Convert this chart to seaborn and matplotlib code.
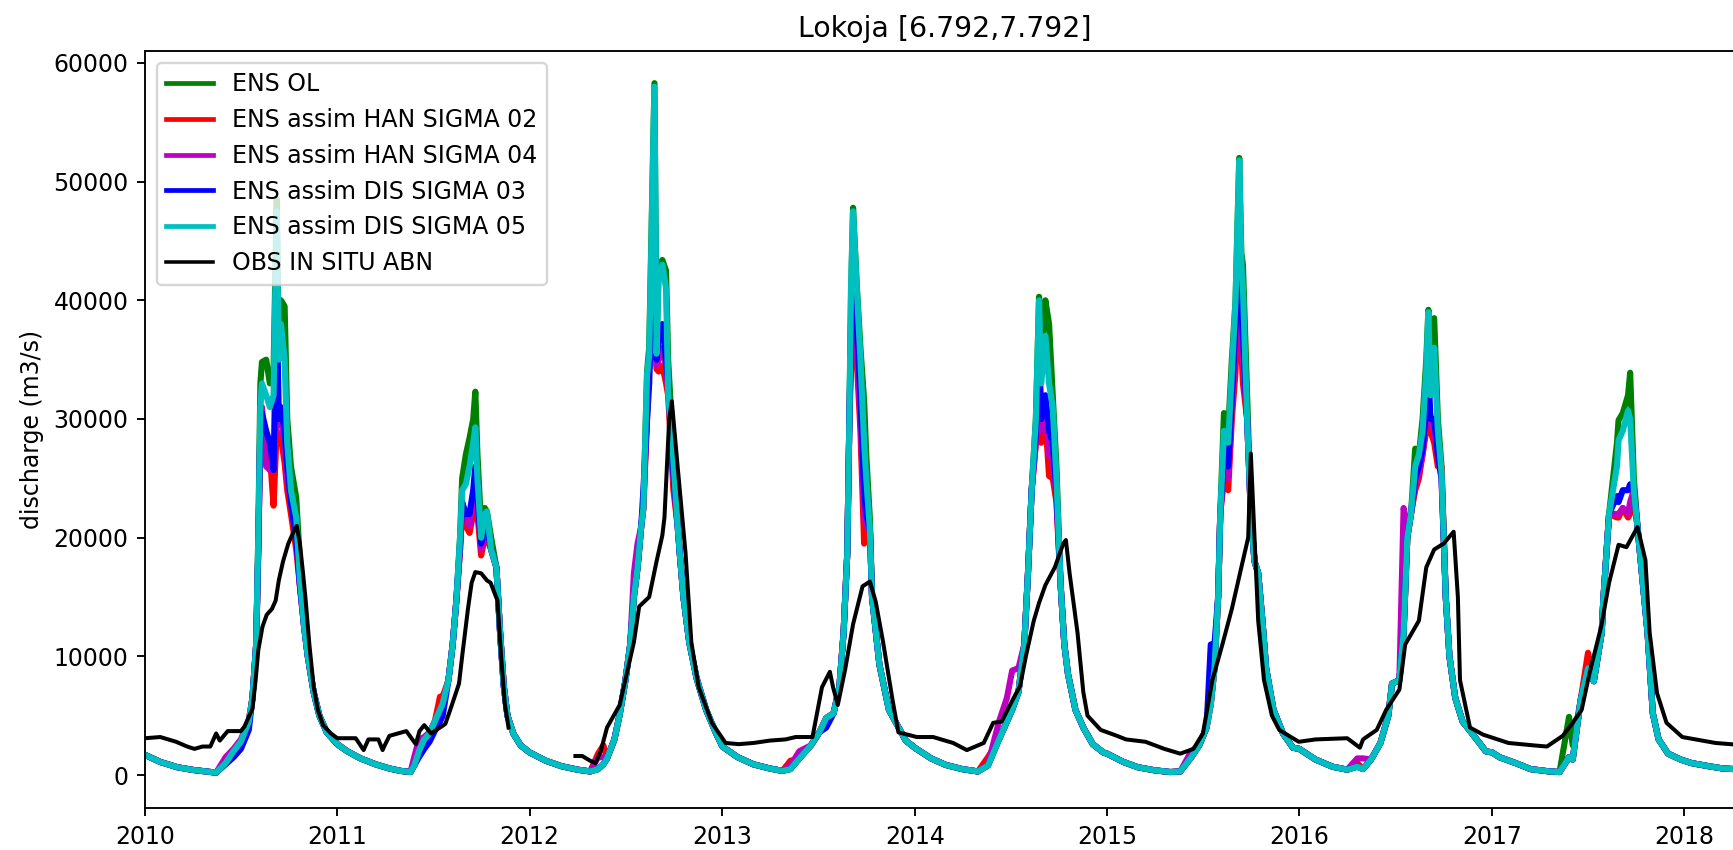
import numpy as np
import pandas as pd
import matplotlib
matplotlib.use("Agg")
import matplotlib.pyplot as plt
import matplotlib.dates as mdates
import seaborn as sns

# ---------------------------------------------------------------------------
# Simulated discharge at Lokoja (m3/s), ensemble means of each experiment
# ---------------------------------------------------------------------------
model_dates = [
    # 2010
    "2010-01-01", "2010-01-30", "2010-03-04", "2010-04-02", "2010-05-01", "2010-05-16",
    "2010-06-03", "2010-06-18",
    "2010-07-02", "2010-07-17", "2010-07-24", "2010-07-31",
    "2010-08-04", "2010-08-08", "2010-08-11", "2010-08-19", "2010-08-26",
    "2010-09-02", "2010-09-08", "2010-09-12", "2010-09-16", "2010-09-23", "2010-09-28",
    "2010-10-05", "2010-10-15", "2010-10-22", "2010-10-30",
    "2010-11-06", "2010-11-17", "2010-11-28",
    "2010-12-12",
    # 2011
    "2011-01-01", "2011-01-20", "2011-02-14", "2011-03-15", "2011-04-10", "2011-05-01", "2011-05-20",
    "2011-05-27", "2011-06-05", "2011-06-15", "2011-06-25",
    "2011-07-05", "2011-07-15", "2011-07-20", "2011-07-31",
    "2011-08-08", "2011-08-15", "2011-08-22", "2011-08-26",
    "2011-09-02", "2011-09-09", "2011-09-16", "2011-09-20", "2011-09-24",
    "2011-10-01", "2011-10-08", "2011-10-12", "2011-10-20", "2011-10-30",
    "2011-11-06", "2011-11-13", "2011-11-20",
    "2011-12-01", "2011-12-15",
    # 2012
    "2012-01-01", "2012-02-01", "2012-03-01", "2012-04-01", "2012-04-25",
    "2012-05-10", "2012-05-20", "2012-05-27",
    "2012-06-10", "2012-06-20",
    "2012-07-01", "2012-07-10", "2012-07-17", "2012-07-24", "2012-07-31",
    "2012-08-04", "2012-08-11", "2012-08-15", "2012-08-25", "2012-08-29",
    "2012-09-02", "2012-09-09", "2012-09-16", "2012-09-20", "2012-09-30",
    "2012-10-08", "2012-10-12", "2012-10-19", "2012-10-30",
    "2012-11-13",
    "2012-12-01", "2012-12-20",
    # 2013
    "2013-01-01", "2013-01-30", "2013-03-01", "2013-04-01", "2013-04-25",
    "2013-05-10", "2013-05-27",
    "2013-06-18",
    "2013-07-04", "2013-07-17", "2013-07-31",
    "2013-08-11", "2013-08-19", "2013-08-26", "2013-08-30",
    "2013-09-02", "2013-09-06", "2013-09-13", "2013-09-20", "2013-09-27",
    "2013-10-01", "2013-10-08", "2013-10-12", "2013-10-26",
    "2013-11-13",
    "2013-12-15",
    # 2014
    "2014-01-01", "2014-02-01", "2014-03-01", "2014-04-01", "2014-05-01", "2014-05-20",
    "2014-06-10", "2014-06-25",
    "2014-07-05", "2014-07-17", "2014-07-28",
    "2014-08-04", "2014-08-11", "2014-08-19", "2014-08-25", "2014-08-29",
    "2014-09-06", "2014-09-13", "2014-09-20", "2014-09-27",
    "2014-10-05", "2014-10-12", "2014-10-19",
    "2014-11-02", "2014-11-17",
    "2014-12-05", "2014-12-25",
    # 2015
    "2015-01-01", "2015-02-01", "2015-03-01", "2015-04-01", "2015-05-01", "2015-05-20",
    "2015-06-10", "2015-06-25",
    "2015-07-09", "2015-07-17", "2015-07-24", "2015-07-31",
    "2015-08-04", "2015-08-11", "2015-08-19", "2015-08-26",
    "2015-09-02", "2015-09-09", "2015-09-13", "2015-09-16", "2015-09-24",
    "2015-10-01", "2015-10-08", "2015-10-15", "2015-10-23", "2015-10-30",
    "2015-11-13",
    "2015-12-01", "2015-12-20",
    # 2016
    "2016-01-01", "2016-02-01", "2016-03-04", "2016-04-01", "2016-04-20",
    "2016-05-01", "2016-05-16",
    "2016-06-03", "2016-06-18", "2016-06-25",
    "2016-07-09", "2016-07-17", "2016-07-24", "2016-07-31",
    "2016-08-08", "2016-08-15", "2016-08-22", "2016-08-29",
    "2016-09-02", "2016-09-06", "2016-09-13", "2016-09-20", "2016-09-27",
    "2016-10-05", "2016-10-12", "2016-10-23",
    "2016-11-06", "2016-11-24",
    "2016-12-20",
    # 2017 - 2018
    "2017-01-01", "2017-01-15", "2017-02-15", "2017-03-15", "2017-04-20",
    "2017-05-09", "2017-05-27",
    "2017-06-03", "2017-06-18",
    "2017-07-02", "2017-07-13", "2017-07-28", "2017-07-31",
    "2017-08-11", "2017-08-26", "2017-08-29",
    "2017-09-06", "2017-09-16", "2017-09-20", "2017-09-27",
    "2017-10-05", "2017-10-23",
    "2017-11-02", "2017-11-13",
    "2017-12-01", "2017-12-25",
    "2018-01-15", "2018-02-15", "2018-03-15", "2018-04-26",
]

ens_ol = [
    1700, 1100, 650, 430, 280, 200, 1000, 2000, 2800, 4500, 6500, 11000,
    20000, 33000, 34800, 35000, 33000, 34000, 48500, 36000, 40000, 39500, 30000,
    26000, 23400, 18000, 12500, 10000, 7000, 5000, 3600,
    2600, 2000, 1400, 900, 550, 350, 250, 800, 2000, 3000, 3500,
    4500, 5500, 6000, 8000, 11000, 14700, 20000, 25000,
    27000, 28400, 30000, 32300, 27000, 21000, 22500, 22200, 20000, 17500,
    12000, 7500, 5000, 3500, 2500,
    1900, 1200, 750, 450, 300, 500, 900, 1400, 3000, 5100,
    8000, 11000, 15000, 17500, 21000, 22500, 34000, 36000, 58300, 36000,
    43000, 43400, 42500, 35000, 27000, 21500, 18700, 15000, 11200, 8150, 5500, 3500,
    2400, 1500, 900, 550, 350, 500, 1400, 2500, 3600, 4800, 5200,
    7400, 12000, 18700, 30000, 40000, 47800, 41300, 36000, 31500,
    27000, 21500, 15000, 9300, 5500, 2900,
    2300, 1400, 850, 500, 300, 800, 3000, 4500, 5500, 7000, 11000,
    17000, 24000, 30000, 40300, 35000, 40000, 38000, 32000, 26000,
    16000, 11000, 8500, 5500, 4000, 2600, 1900,
    1800, 1100, 650, 400, 250, 300, 1500, 2500, 4000, 6000, 9000, 15000,
    22000, 30500, 29000, 35000, 40000, 52000, 44000, 43000, 32000,
    22000, 18000, 17000, 13000, 9000, 5500, 3500, 2300,
    2200, 1300, 700, 450, 700, 500, 1300, 2700, 5000, 7700,
    8000, 12000, 20000, 22000, 27500, 27000, 30000, 35000,
    39200, 32000, 38500, 30000, 26000, 15000, 10000, 6500, 4500, 3500, 2000,
    1900, 1500, 1000, 500, 300, 250, 4900, 2500, 6300,
    9000, 7900, 12000, 14700, 22000, 28000, 29900,
    30500, 32000, 33900, 25000, 20400, 12000, 5200, 3000, 1800, 1300,
    1000, 750, 550, 450,
]

han_sigma02 = [
    1700, 1100, 650, 430, 280, 200, 1000, 2000, 2800, 4500, 6500, 11000,
    19000, 29000, 30000, 28000, 27000, 22700, 29000, 28500, 28500, 26300, 24000,
    22000, 19000, 16000, 12500, 10000, 7000, 5000, 3600,
    2600, 2000, 1400, 900, 550, 350, 250, 800, 2000, 3000, 3500,
    4500, 6600, 6600, 8000, 11000, 14700, 19000, 22000,
    21000, 20400, 22000, 24500, 22000, 18500, 20000, 20000, 19000, 17500,
    12000, 7500, 5000, 3500, 2500,
    1900, 1200, 750, 450, 300, 1800, 2500, 1400, 3000, 5100,
    8000, 11000, 15000, 17500, 21000, 22500, 30000, 34500, 40000, 34200,
    34000, 34500, 33000, 32000, 24000, 21000, 18700, 15000, 11200, 8150, 5500, 3500,
    2400, 1500, 900, 550, 350, 1200, 1400, 2500, 3600, 4800, 5200,
    7400, 12000, 18700, 30000, 34000, 42000, 35000, 29000, 19500,
    20500, 20600, 15000, 9300, 5500, 2900,
    2300, 1400, 850, 500, 300, 1500, 3000, 4500, 5500, 7000, 11000,
    17000, 24000, 28000, 34000, 28000, 30000, 25200, 25000, 23000,
    16000, 11000, 8500, 5500, 4000, 2600, 1900,
    1800, 1100, 650, 400, 250, 300, 1500, 2500, 4000, 6000, 9000, 15000,
    22000, 25000, 24000, 30000, 34000, 45000, 36000, 33000, 30000,
    22000, 18000, 17000, 13000, 9000, 5500, 3500, 2300,
    2200, 1300, 700, 450, 1000, 500, 1300, 2700, 5000, 7700,
    8000, 12000, 20000, 22000, 24000, 25000, 27000, 29000,
    31000, 29000, 28000, 26000, 26000, 15000, 10000, 6500, 4500, 3500, 2000,
    1900, 1500, 1000, 500, 300, 250, 1500, 1300, 6300,
    10300, 7900, 12000, 14700, 22000, 21700, 21700,
    22500, 21700, 22000, 24000, 20400, 12000, 5200, 3000, 1800, 1300,
    1000, 750, 550, 450,
]

han_sigma04 = [
    1700, 1100, 650, 430, 280, 200, 1500, 2200, 3000, 4600, 6500, 11000,
    19000, 30000, 31000, 26000, 25700, 27000, 30000, 29500, 30000, 28000, 25000,
    23000, 20000, 16000, 12500, 10000, 7000, 5000, 3600,
    2600, 2000, 1400, 900, 550, 350, 250, 1500, 3000, 3200, 3600,
    4500, 5500, 6000, 8000, 11000, 14700, 19000, 22500,
    22000, 21000, 23000, 25000, 23000, 19000, 20500, 20500, 19000, 17500,
    12000, 7500, 5000, 3500, 2500,
    1900, 1200, 750, 450, 300, 1500, 1500, 1400, 3000, 5100,
    8000, 11000, 17000, 19500, 21000, 22500, 31000, 34000, 45000, 34500,
    35000, 36000, 34500, 32500, 25000, 21000, 18700, 15000, 11200, 8150, 5500, 3500,
    2400, 1500, 900, 550, 350, 800, 2000, 2500, 3600, 4800, 5200,
    7400, 12000, 18700, 30000, 36000, 43000, 36000, 30000, 22000,
    21000, 20600, 15000, 9300, 5500, 2900,
    2300, 1400, 850, 500, 300, 900, 4500, 6500, 8800, 9000, 11000,
    17000, 24000, 28000, 35000, 29000, 31000, 27000, 26500, 23500,
    16000, 11000, 8500, 5500, 4000, 2600, 1900,
    1800, 1100, 650, 400, 250, 300, 2000, 2500, 4000, 6000, 9000, 15000,
    22000, 26000, 25000, 31000, 36000, 47000, 38000, 35000, 30000,
    22000, 18000, 17000, 13000, 9000, 5500, 3500, 2300,
    2200, 1300, 700, 450, 1400, 1400, 1300, 2700, 5000, 7700,
    8000, 22500, 21000, 22000, 24500, 25500, 27000, 30000,
    32000, 30000, 29000, 27000, 25000, 15000, 10000, 6500, 4500, 3500, 2000,
    1900, 1500, 1000, 500, 300, 250, 1500, 1300, 6300,
    9000, 7900, 12000, 14700, 22000, 22000, 22000,
    22500, 22000, 23000, 24000, 20400, 12000, 5200, 3000, 1800, 1300,
    1000, 750, 550, 450,
]

dis_sigma03 = [
    1700, 1100, 650, 430, 280, 200, 900, 1500, 2200, 3800, 6500, 11000,
    19000, 29500, 30500, 29000, 28000, 25700, 40000, 30000, 31000, 29000, 26000,
    23000, 20000, 16000, 12500, 10000, 7000, 5000, 3600,
    2600, 2000, 1400, 900, 550, 350, 250, 800, 1500, 2200, 2800,
    3700, 4500, 5000, 8000, 11000, 14700, 19500, 23000,
    22000, 22000, 24000, 26000, 23500, 19500, 21000, 21000, 19000, 17500,
    12000, 7500, 5000, 3500, 2500,
    1900, 1200, 750, 450, 300, 500, 900, 1400, 3000, 5100,
    8000, 11000, 15000, 17500, 21000, 24000, 30000, 33000, 50000, 35000,
    37000, 38000, 35000, 33000, 25500, 21000, 18700, 15000, 11200, 8150, 5500, 3500,
    2400, 1500, 900, 550, 350, 500, 1400, 2500, 3600, 4000, 5200,
    7400, 12000, 18700, 30000, 38000, 45000, 38000, 32000, 24000,
    22000, 20600, 15000, 9300, 5500, 2900,
    2300, 1400, 850, 500, 300, 800, 3000, 4500, 5500, 7000, 11000,
    17000, 24000, 29000, 37000, 30000, 32000, 29000, 28000, 24000,
    16000, 11000, 8500, 5500, 4000, 2600, 1900,
    1800, 1100, 650, 400, 250, 300, 1500, 2500, 4000, 11000, 11000, 15000,
    22000, 27000, 26000, 32000, 38000, 49000, 40000, 37000, 30000,
    22000, 18000, 17000, 13000, 9000, 5500, 3500, 2300,
    2200, 1300, 700, 450, 700, 500, 1300, 2700, 5000, 7700,
    8000, 12000, 20000, 22000, 25000, 26000, 27500, 31000,
    34000, 30000, 30000, 27000, 25000, 15000, 10000, 6500, 4500, 3500, 2000,
    1900, 1500, 1000, 500, 300, 250, 1500, 1300, 6300,
    9000, 7900, 12000, 14700, 22000, 23500, 23000,
    24000, 24000, 24500, 24000, 20400, 12000, 5200, 3000, 1800, 1300,
    1000, 750, 550, 450,
]

dis_sigma05 = [
    1700, 1100, 650, 430, 280, 200, 1000, 2000, 2800, 4500, 6500, 11000,
    20000, 31000, 33000, 32000, 31000, 32000, 47500, 35000, 38000, 35000, 28000,
    24000, 21700, 16500, 12500, 10000, 7000, 5000, 3600,
    2600, 2000, 1400, 900, 550, 350, 250, 800, 2000, 3000, 3500,
    4500, 5500, 6000, 8000, 11000, 14700, 20000, 24000,
    24500, 26000, 28000, 29300, 25000, 20000, 22000, 22200, 19000, 17500,
    12000, 7500, 5000, 3500, 2500,
    1900, 1200, 750, 450, 300, 500, 900, 1400, 3000, 5100,
    8000, 11000, 15000, 17500, 21000, 22500, 33800, 35300, 58000, 35500,
    42000, 43000, 41000, 32300, 26500, 21000, 18700, 15000, 11200, 8150, 5500, 3500,
    2400, 1500, 900, 550, 350, 500, 1400, 2500, 3600, 4800, 5200,
    7400, 12000, 18700, 30000, 41000, 47500, 41000, 35000, 28000,
    25000, 20600, 15000, 9300, 5500, 2900,
    2300, 1400, 850, 500, 300, 800, 3000, 4500, 5500, 7000, 11000,
    17000, 24000, 30000, 40000, 33000, 37000, 33000, 31000, 25000,
    16000, 11000, 8500, 5500, 4000, 2600, 1900,
    1800, 1100, 650, 400, 250, 300, 1500, 2500, 4000, 6000, 9000, 15000,
    22000, 29000, 28000, 34000, 40000, 51800, 43000, 41000, 30000,
    22000, 18000, 17000, 13000, 9000, 5500, 3500, 2300,
    2200, 1300, 700, 450, 700, 500, 1300, 2700, 5000, 7700,
    8000, 12000, 20000, 22000, 26000, 27000, 29000, 34000,
    39000, 32000, 36000, 29000, 25500, 15000, 10000, 6500, 4500, 3500, 2000,
    1900, 1500, 1000, 500, 300, 250, 1500, 1300, 6300,
    9000, 7900, 12000, 14700, 22000, 26000, 28200,
    29000, 30700, 30000, 24000, 20400, 12000, 5200, 3000, 1800, 1300,
    1000, 750, 550, 450,
]

# ---------------------------------------------------------------------------
# In-situ gauge record (ABN); None marks the missing stretch early 2012
# ---------------------------------------------------------------------------
obs_dates = [
    "2010-01-01", "2010-01-30", "2010-03-01", "2010-03-22", "2010-04-05", "2010-04-20",
    "2010-05-05", "2010-05-16", "2010-05-23", "2010-06-07", "2010-07-02", "2010-07-09",
    "2010-07-24", "2010-07-30", "2010-08-04", "2010-08-12",
    "2010-08-20", "2010-08-30", "2010-09-06", "2010-09-12", "2010-09-20", "2010-09-30",
    "2010-10-10", "2010-10-16", "2010-10-22", "2010-10-28", "2010-11-02", "2010-11-09",
    "2010-11-17", "2010-11-25", "2010-12-05", "2010-12-20",
    "2011-01-01", "2011-02-05", "2011-02-20", "2011-03-01", "2011-03-20", "2011-03-28",
    "2011-04-01", "2011-04-10", "2011-05-12", "2011-05-30", "2011-06-06", "2011-06-15",
    "2011-06-28", "2011-07-25", "2011-08-05", "2011-08-20", "2011-08-26", "2011-09-06",
    "2011-09-13", "2011-09-20", "2011-10-01", "2011-10-12", "2011-10-19", "2011-11-01",
    "2011-11-08", "2011-11-15", "2011-11-22",
    "2012-01-15",
    "2012-03-28", "2012-04-10", "2012-04-25", "2012-05-05", "2012-05-15", "2012-05-27",
    "2012-06-20", "2012-07-17", "2012-07-27", "2012-08-15", "2012-08-29", "2012-09-09",
    "2012-09-13", "2012-09-22", "2012-09-27", "2012-10-08", "2012-10-23", "2012-11-03",
    "2012-11-17", "2012-12-12",
    "2013-01-07", "2013-02-01", "2013-03-01", "2013-04-01", "2013-05-01", "2013-05-20",
    "2013-06-21", "2013-07-09", "2013-07-24", "2013-07-30", "2013-08-08", "2013-08-22",
    "2013-09-06", "2013-09-24", "2013-10-08", "2013-10-19", "2013-11-02", "2013-11-20",
    "2013-12-01",
    "2014-01-05", "2014-02-05", "2014-03-15", "2014-04-10", "2014-05-12", "2014-05-30",
    "2014-06-15", "2014-07-02", "2014-07-20", "2014-07-31", "2014-08-15", "2014-08-25",
    "2014-09-06", "2014-09-24", "2014-10-10", "2014-10-15", "2014-10-22", "2014-11-06",
    "2014-11-17", "2014-11-25", "2014-12-20",
    "2015-01-20", "2015-02-06", "2015-03-15", "2015-04-20", "2015-05-20", "2015-06-14",
    "2015-07-02", "2015-07-20", "2015-08-08", "2015-08-26", "2015-09-13", "2015-09-26",
    "2015-10-01", "2015-10-08", "2015-10-15", "2015-10-26", "2015-11-10", "2015-11-24",
    "2015-12-31",
    "2016-02-01", "2016-04-01", "2016-04-25", "2016-05-01", "2016-05-27", "2016-06-14",
    "2016-07-09", "2016-07-20", "2016-08-15", "2016-08-29", "2016-09-13", "2016-10-01",
    "2016-10-20", "2016-10-28", "2016-11-01", "2016-11-20", "2016-12-15",
    "2017-02-01", "2017-03-20", "2017-04-15", "2017-05-15", "2017-06-03", "2017-06-20",
    "2017-07-05", "2017-07-27", "2017-08-11", "2017-08-29", "2017-09-13", "2017-10-04",
    "2017-10-19", "2017-10-27", "2017-11-10", "2017-11-28", "2017-12-28",
    "2018-03-01", "2018-04-26",
]

obs_abn = [
    3100, 3200, 2800, 2400, 2200, 2400,
    2400, 3500, 2900, 3700, 3700, 4100,
    5600, 8000, 10500, 12500,
    13500, 14000, 14700, 16400, 18000, 19500,
    20500, 21000, 19500, 17000, 14700, 11000,
    7500, 5500, 4200, 3500,
    3100, 3100, 2100, 3000, 3000, 2100,
    2500, 3300, 3700, 2600, 3700, 4200,
    3500, 4300, 5700, 7700, 10000, 14000,
    16200, 17100, 17000, 16400, 16200, 14700,
    10000, 6000, 4000,
    None,
    1600, 1600, 1200, 1000, 2000, 4000,
    5900, 11200, 14200, 15000, 18000, 20200,
    21700, 30000, 31500, 26000, 18700, 11200,
    7400, 4400,
    2700, 2600, 2700, 2900, 3000, 3200,
    3200, 7400, 8700, 7400, 5900, 8900,
    12700, 15900, 16300, 14600, 11200, 6300,
    3600,
    3200, 3200, 2700, 2100, 2700, 4400,
    4500, 6000, 7500, 10000, 13000, 14500,
    16000, 17500, 19500, 19800, 17000, 12000,
    7000, 5000, 3800,
    3300, 3000, 2800, 2200, 1800, 2200,
    3500, 8000, 11000, 14000, 17500, 20000,
    27100, 20000, 13000, 8000, 5000, 3800,
    2800,
    3000, 3100, 2300, 3000, 3800, 5500,
    7200, 11000, 13000, 17500, 19000, 19500,
    20500, 15000, 8000, 4000, 3400,
    2700, 2500, 2400, 3300, 4400, 5500,
    8600, 12500, 16200, 19400, 19200, 20900,
    18100, 12000, 6900, 4400, 3200,
    2700, 2500,
]

series_names = [
    "ENS OL",
    "ENS assim HAN SIGMA 02",
    "ENS assim HAN SIGMA 04",
    "ENS assim DIS SIGMA 03",
    "ENS assim DIS SIGMA 05",
]
series_colors = ["g", "r", "m", "b", "c"]
obs_name = "OBS IN SITU ABN"

# ---------------------------------------------------------------------------
dpi = 170
fig = plt.figure(figsize=(1734 / dpi, 850 / dpi), dpi=dpi)
ax = fig.add_axes([145 / 1734, 42 / 850, 1600 / 1734, 757 / 850])

model = pd.DataFrame({
    "date": pd.to_datetime(model_dates),
    series_names[0]: ens_ol,
    series_names[1]: han_sigma02,
    series_names[2]: han_sigma04,
    series_names[3]: dis_sigma03,
    series_names[4]: dis_sigma05,
})

for name, color in zip(series_names, series_colors):
    sns.lineplot(data=model, x="date", y=name, color=color, lw=2.6,
                 label=name, ax=ax)

obs = pd.DataFrame({"date": pd.to_datetime(obs_dates),
                    "q": pd.Series(obs_abn, dtype="float")})
obs["segment"] = obs["q"].isna().cumsum()
obs = obs.dropna()
for k, (seg_id, seg) in enumerate(obs.groupby("segment")):
    sns.lineplot(data=seg, x="date", y="q", color="k", lw=1.7,
                 label=obs_name if k == 0 else None, ax=ax)

ax.set_xlim(pd.Timestamp("2010-01-01"), pd.Timestamp("2018-04-26"))
ax.set_ylim(-2780, 61010)
ax.xaxis.set_major_locator(mdates.YearLocator())
ax.xaxis.set_major_formatter(mdates.DateFormatter("%Y"))
ax.set_xlabel("")
ax.set_ylabel("discharge (m3/s)")
ax.set_title("Lokoja [6.792,7.792]")

handles, labels = ax.get_legend_handles_labels()
uniq = dict()
for h, l in zip(handles, labels):
    if l not in uniq and not l.startswith("_"):
        uniq[l] = h
leg = ax.legend(list(uniq.values()), list(uniq.keys()), loc="upper left")
for line in leg.get_lines():
    line.set_linewidth(2.0 if line.get_color() != "k" else 1.5)

fig.savefig("out.png", dpi=dpi)
